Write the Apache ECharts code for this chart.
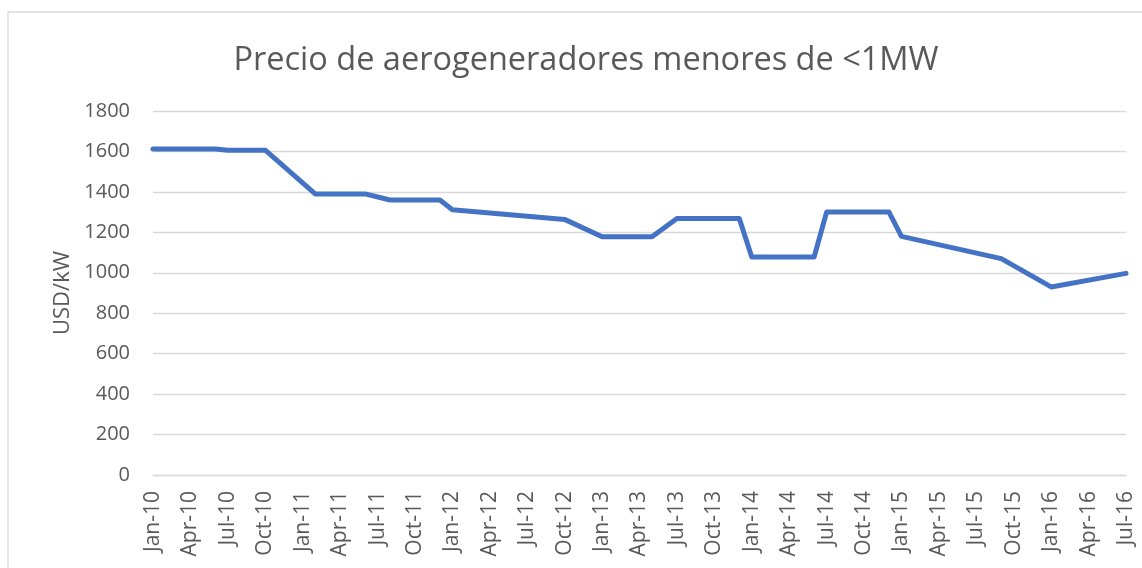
<!DOCTYPE html>
<html>
<head>
<meta charset="utf-8">
<title>Precio de aerogeneradores menores de &lt;1MW</title>
<script src="https://cdn.jsdelivr.net/npm/echarts@6/dist/echarts.min.js"></script>
<style>
  html, body { margin: 0; padding: 0; background: #ffffff; }
  #chart { width: 1142px; height: 568px; }
</style>
</head>
<body>
<div id="chart"></div>
<script>
// Monthly category axis, Jan-10 .. Jul-16
const monthNames = ['Jan', 'Feb', 'Mar', 'Apr', 'May', 'Jun', 'Jul', 'Aug', 'Sep', 'Oct', 'Nov', 'Dec'];
const startYear = 2010;
const monthCount = 79;

// Observed price points (USD/kW); months in between have no reading
const pointDates = ['Jan-10', 'Jun-10', 'Jul-10', 'Oct-10', 'Feb-11', 'Jun-11', 'Aug-11', 'Dec-11',
  'Jan-12', 'Oct-12', 'Jan-13', 'May-13', 'Jul-13', 'Dec-13', 'Jan-14', 'Jun-14', 'Jul-14',
  'Dec-14', 'Jan-15', 'Sep-15', 'Jan-16', 'Jul-16'];
const pointValues = [1612, 1612, 1606, 1606, 1390, 1390, 1360, 1360,
  1312, 1264, 1178, 1178, 1268, 1268, 1078, 1078, 1300,
  1300, 1180, 1070, 930, 997];

const yTicks = { min: 0, max: 1800, interval: 200 };

const categories = [];
for (let i = 0; i < monthCount; i++) {
  const y = startYear + Math.floor(i / 12);
  categories.push(monthNames[i % 12] + '-' + String(y % 100).padStart(2, '0'));
}
const seriesData = categories.map(c => {
  const k = pointDates.indexOf(c);
  return k >= 0 ? pointValues[k] : null;
});

const textColor = '#595959';
const gridColor = '#d9d9d9';

const chart = echarts.init(document.getElementById('chart'), null, { renderer: 'canvas' });
chart.setOption({
  backgroundColor: '#ffffff',
  animation: false,
  title: {
    text: 'Precio de aerogeneradores menores de <1MW',
    left: 581,
    top: 39,
    textAlign: 'center',
    textStyle: {
      fontFamily: 'Open Sans',
      fontSize: 32.5,
      fontWeight: 'normal',
      color: textColor
    }
  },
  graphic: [{
    type: 'rect',
    shape: { x: 8, y: 12, width: 1300, height: 700 },
    style: { fill: 'none', stroke: gridColor, lineWidth: 1.3 },
    silent: true,
    z: -1
  }],
  grid: { left: 153, right: 16, top: 111, bottom: 93, containLabel: false },
  xAxis: {
    type: 'category',
    data: categories,
    boundaryGap: false,
    axisLine: { show: true, lineStyle: { color: gridColor, width: 1.3 } },
    axisTick: { show: false },
    axisLabel: {
      interval: 2,
      rotate: 90,
      margin: 16,
      color: textColor,
      fontFamily: 'Open Sans',
      fontSize: 21
    },
    splitLine: { show: false }
  },
  yAxis: {
    type: 'value',
    min: yTicks.min,
    max: yTicks.max,
    interval: yTicks.interval,
    name: 'USD/kW',
    nameLocation: 'middle',
    nameRotate: 90,
    nameGap: 79,
    nameTextStyle: { color: textColor, fontFamily: 'Open Sans', fontSize: 22 },
    axisLine: { show: false },
    axisTick: { show: false },
    axisLabel: {
      margin: 23,
      color: textColor,
      fontFamily: 'Open Sans',
      fontSize: 20,
      formatter: v => String(v)
    },
    splitLine: { show: true, lineStyle: { color: gridColor, width: 1.3 } }
  },
  series: [{
    type: 'line',
    data: seriesData,
    connectNulls: true,
    showSymbol: false,
    symbol: 'none',
    lineStyle: { color: '#4472c4', width: 5, join: 'round', cap: 'round' },
    itemStyle: { color: '#4472c4' }
  }]
});
</script>
</body>
</html>
